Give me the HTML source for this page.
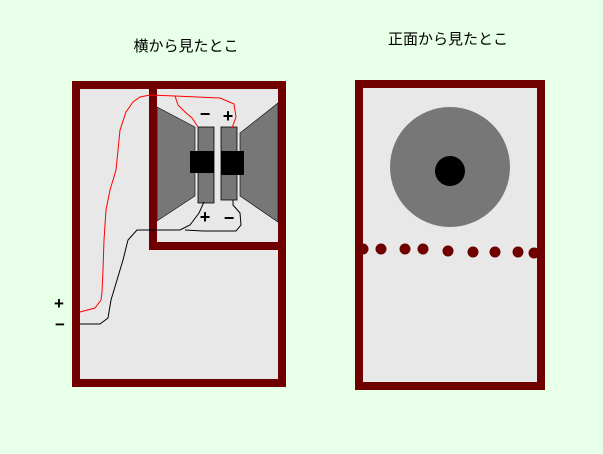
<!DOCTYPE html>
<html><head><meta charset="utf-8"><style>
body{margin:0;background:#e8ffe8;}
svg{display:block}
text{font-family:"Liberation Sans","Noto Sans CJK JP",sans-serif;}
</style></head><body>
<svg width="603" height="454" viewBox="0 0 603 454">
<rect width="603" height="454" fill="#e8ffe8"/>
<text x="186" y="51" font-size="15" text-anchor="middle" fill="#000">横から見たとこ</text>
<text x="448" y="44" font-size="15" text-anchor="middle" fill="#000">正面から見たとこ</text>
<rect x="76" y="85" width="206" height="298" fill="#e8e8e8" stroke="#700000" stroke-width="8"/>
<polygon points="157,107 195,127 195,196 157,221" fill="#777" stroke="#000" stroke-width="0.6"/>
<polygon points="278,103 240,133 240,196 278,222" fill="#777" stroke="#000" stroke-width="0.6"/>
<rect x="198" y="127" width="16" height="76" fill="#777" stroke="#000" stroke-width="0.8"/>
<rect x="221" y="127" width="16" height="73" fill="#777" stroke="#000" stroke-width="0.8"/>
<rect x="190" y="151" width="24" height="22" fill="#000"/>
<rect x="221" y="151" width="23" height="24" fill="#000"/>
<polyline points="153,85 153,246 282,246" fill="none" stroke="#700000" stroke-width="8"/>
<polyline points="80,312 95,308 101,300 102,292 103,270 104,240 106,210 110,190 116,170 118,150 120,130 126,112 133,102 140,97 150,95 175,96 178,105 185,112 192,118 198,127" fill="none" stroke="#f00" stroke-width="1"/>
<polyline points="175,96 220,98 234,104 236,117 232,128" fill="none" stroke="#f00" stroke-width="1"/>
<polyline points="80,324 100,324 108,318 111,300 117,280 123,260 128,240 137,230 180,230 190,225 199,213 204,202" fill="none" stroke="#000" stroke-width="1"/>
<polyline points="185,230 203,231 236,231 241,225 240,213 233,205 233,200" fill="none" stroke="#000" stroke-width="1"/>
<text x="205" y="120" font-size="18" font-weight="bold" text-anchor="middle">−</text>
<text x="228" y="122" font-size="18" font-weight="bold" text-anchor="middle">+</text>
<text x="205" y="223" font-size="18" font-weight="bold" text-anchor="middle">+</text>
<text x="229" y="224" font-size="18" font-weight="bold" text-anchor="middle">−</text>
<text x="59" y="309" font-size="17" font-weight="bold" text-anchor="middle">+</text>
<text x="60" y="330" font-size="17" font-weight="bold" text-anchor="middle">−</text>
<rect x="359" y="84" width="182" height="302" fill="#e8e8e8" stroke="#700000" stroke-width="8"/>
<circle cx="450" cy="167" r="60" fill="#777"/>
<circle cx="450" cy="171" r="15" fill="#000"/>
<g fill="#700000">
<circle cx="363" cy="249" r="5.5"/>
<circle cx="381" cy="249" r="5.5"/>
<circle cx="405" cy="249" r="5.5"/>
<circle cx="423" cy="249" r="5.5"/>
<circle cx="448" cy="251" r="5.5"/>
<circle cx="473" cy="252" r="5.5"/>
<circle cx="495" cy="252" r="5.5"/>
<circle cx="518" cy="252" r="5.5"/>
<circle cx="534" cy="253" r="5.5"/>
</g>
</svg>
</body></html>
